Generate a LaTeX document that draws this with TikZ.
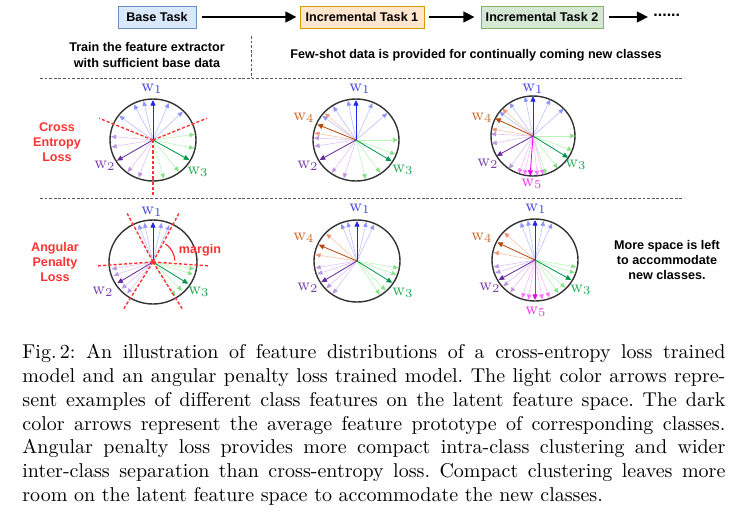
\documentclass[tikz,border=0pt]{standalone}
\usepackage{fontspec}
\newfontfamily\arial{Liberation Sans}
\usetikzlibrary{arrows.meta}
\definecolor{cred}{HTML}{FF3333}
\definecolor{bfill}{HTML}{DAE8FC}\definecolor{bdraw}{HTML}{6C8EBF}
\definecolor{ofill}{HTML}{FFE6CC}\definecolor{odraw}{HTML}{D79B00}
\definecolor{gfill}{HTML}{D5E8D4}\definecolor{gdraw}{HTML}{82B366}
\definecolor{dblue}{HTML}{2424F0}\definecolor{lblue}{HTML}{BCC0FF}\definecolor{hblue}{HTML}{9094FF}
\definecolor{dpurp}{HTML}{6A2C9A}\definecolor{lpurp}{HTML}{DCC4F4}\definecolor{hpurp}{HTML}{BC96E2}
\definecolor{dgreen}{HTML}{00994C}\definecolor{lgreen}{HTML}{B8F4B8}\definecolor{hgreen}{HTML}{86E286}
\definecolor{dorange}{HTML}{B84A10}\definecolor{lorange}{HTML}{F8C4A8}\definecolor{horange}{HTML}{F09474}
\definecolor{dmag}{HTML}{F000F0}\definecolor{lmag}{HTML}{FFB8FF}\definecolor{hmag}{HTML}{FF74FF}
\definecolor{wone}{HTML}{4444DD}\definecolor{wtwo}{HTML}{7B3FA8}\definecolor{wthree}{HTML}{22AA55}
\definecolor{wfour}{HTML}{CC6A2A}\definecolor{wfive}{HTML}{EE33EE}
\newcommand\fan[3]{\foreach \a in {#3}{\draw[line width=0.3pt, draw=#1, -{Triangle[length=2.5pt,width=2.2pt,color=#2]}] (0,0) -- (\a:42 and 40);}}
\newcommand\proto[2]{\draw[line width=0.42pt, draw=#1, -{Triangle[length=2.8pt,width=2.5pt]}] (0,0) -- (#2:42 and 40);}
\newcommand\capline[1]{\hbox to \linewidth{\spaceskip=0.333em plus 1em minus 0.2em #1}}
\begin{document}
\begin{tikzpicture}[x=0.5pt,y=-0.5pt,
  sans/.style={font=\arial\bfseries\fontsize{6.3}{7.6}\selectfont, inner sep=0pt},
  task/.style={sans, draw, line width=0.5pt, minimum height=11pt},
  flow/.style={line width=1pt, -{Triangle[length=5.6pt,width=5.4pt]}},
  sepline/.style={draw=black!65, line width=0.5pt, dash pattern=on 1.4pt off 0.9pt},
  wl/.style={font=\fontsize{8.6}{9}\selectfont, inner sep=0pt},
  ring/.style={draw=black!80, line width=0.7pt},
  bnd/.style={draw=cred, line width=0.7pt, dash pattern=on 1.6pt off 1pt}]
\useasboundingbox (0,0) rectangle (743,525);

% header flow
\node[task, fill=bfill, draw=bdraw, minimum width=39pt] (base) at (157,17) {Base Task};
\node[task, fill=ofill, draw=odraw, minimum width=62pt] (inc1) at (362,17) {Incremental Task 1};
\node[task, fill=gfill, draw=gdraw, minimum width=61pt] (inc2) at (542,17) {Incremental Task 2};
\node[font=\arial\bfseries\fontsize{8}{8}\selectfont, inner sep=0pt, anchor=west] (dots) at (653,15) {......};
\coordinate (end3) at (648,17);
\draw[flow, shorten <=2.6pt, shorten >=1.5pt] (base.east) -- (inc1.west);
\draw[flow, shorten <=2pt, shorten >=3pt] (inc1.east) -- (inc2.west);
\draw[flow, shorten <=2.5pt] (inc2.east) -- (end3);

\node[sans, align=center] (train) at (147,55) {Train the feature extractor\\with sufficient base data};
\node[sans] (few) at (476,55) {Few-shot data is provided for continually coming new classes};
\coordinate (vtop) at (251,36);
\coordinate (vbot) at (251,78);
\draw[sepline] (vtop) -- (vbot);
\coordinate (h1a) at (40,78); \coordinate (h1b) at (684,78);
\coordinate (h2a) at (40,198); \coordinate (h2b) at (684,198);
\draw[sepline] (h1a) -- (h1b);
\draw[sepline] (h2a) -- (h2b);

% row labels
\node[sans, text=cred, align=center, font=\arial\bfseries\fontsize{6.3}{7.5}\selectfont] (ce) at (57,142) {Cross\\Entropy\\Loss};
\node[sans, text=cred, align=center, font=\arial\bfseries\fontsize{6.3}{7.5}\selectfont] (apl) at (55,262) {Angular\\Penalty\\Loss};

% ---- row 1 circle 1
\begin{scope}[shift={(153,140)}, yscale=-1]
\draw[ring] (0,0) ellipse [x radius=43, y radius=41];
\fan{lblue}{hblue}{45,68,103,117,143}
\fan{lpurp}{hpurp}{175,190,233,250}
\fan{lgreen}{hgreen}{8,-12,-52,-75}
\proto{dblue}{90}\proto{dpurp}{211}\proto{dgreen}{-30}
\draw[bnd] (0,0) -- (22:58);
\draw[bnd] (0,0) -- (158:58);
\draw[bnd] (0,0) -- (270:55);
\fill[cred] (0,0) circle[radius=1];
\end{scope}
% ---- row 1 circle 2
\begin{scope}[shift={(356,140)}, yscale=-1]
\draw[ring] (0,0) ellipse [x radius=43, y radius=41];
\fan{lblue}{hblue}{42,67,101,123,143}
\fan{lorange}{horange}{138,170}
\fan{lpurp}{hpurp}{177,189,235,253}
\fan{lgreen}{hgreen}{0,-21,-55,-77}
\proto{dblue}{90}\proto{dorange}{157}\proto{dpurp}{210}\proto{dgreen}{-32}
\end{scope}
% ---- row 1 circle 3
\begin{scope}[shift={(533,136)}, yscale=-1]
\draw[ring] (0,0) ellipse [x radius=42, y radius=40];
\fan{lblue}{hblue}{43,66,101,124,143}
\fan{lorange}{horange}{137,170}
\fan{lpurp}{hpurp}{177,191,235}
\fan{lgreen}{hgreen}{0,-21,-54,-72}
\fan{lmag}{hmag}{250,258,276,284}
\proto{dblue}{90}\proto{dorange}{154}\proto{dpurp}{210}\proto{dgreen}{-33}\proto{dmag}{266}
\end{scope}
% ---- row 2 circle 1
\begin{scope}[shift={(153,262)}, yscale=-1]
\draw[ring] (0,0) ellipse [x radius=44, y radius=42];
\fan{lblue}{hblue}{67,78,102,110}
\fan{lpurp}{hpurp}{190,200,222,232}
\fan{lgreen}{hgreen}{-10,-18,-46,-58}
\proto{dblue}{90}\proto{dpurp}{212}\proto{dgreen}{-33}
\foreach \b in {62,118,184,238,302,356}{\draw[bnd] (0,0) -- (\b:55);}
\draw[cred, line width=0.6pt] (56:22) arc[start angle=56, end angle=4, radius=22];
\fill[cred] (0,0) circle[radius=2];
\end{scope}
% ---- row 2 circle 2
\begin{scope}[shift={(357,261)}, yscale=-1]
\draw[ring] (0,0) ellipse [x radius=43, y radius=41];
\fan{lblue}{hblue}{66,77,103,112}
\fan{lorange}{horange}{137,171}
\fan{lpurp}{hpurp}{190,199,223,235}
\fan{lgreen}{hgreen}{-10,-20,-47,-57}
\proto{dblue}{90}\proto{dorange}{156}\proto{dpurp}{212}\proto{dgreen}{-33}
\end{scope}
% ---- row 2 circle 3
\begin{scope}[shift={(535,260)}, yscale=-1]
\draw[ring] (0,0) ellipse [x radius=43, y radius=41];
\fan{lblue}{hblue}{66,78,100,110}
\fan{lorange}{horange}{137,169}
\fan{lpurp}{hpurp}{190,199,221,234}
\fan{lgreen}{hgreen}{-10,-19,-44,-56}
\fan{lmag}{hmag}{252,261,280,290}
\proto{dblue}{90}\proto{dorange}{154}\proto{dpurp}{210}\proto{dgreen}{-30}\proto{dmag}{270}
\end{scope}

% w labels
\node[wl, text=wone] (a1) at (152,89) {w$_1$};
\node[wl, text=wtwo] (a2) at (105,166) {w$_2$};
\node[wl, text=wthree] (a3) at (198,172) {w$_3$};
\node[wl, text=wone] (b1) at (360,89) {w$_1$};
\node[wl, text=wfour] (b4) at (304,118) {w$_4$};
\node[wl, text=wtwo] (b2) at (308,166) {w$_2$};
\node[wl, text=wthree] (b3) at (403,170) {w$_3$};
\node[wl, text=wone] (c1) at (533,89) {w$_1$};
\node[wl, text=wfour] (c4) at (482,118) {w$_4$};
\node[wl, text=wtwo] (c2) at (488,164) {w$_2$};
\node[wl, text=wthree] (c3) at (576,165) {w$_3$};
\node[wl, text=wfive] (c5) at (532,184) {w$_5$};
\node[wl, text=wone] (d1) at (152,212) {w$_1$};
\node[wl, text=wtwo] (d2) at (103,292) {w$_2$};
\node[wl, text=wthree] (d3) at (199,292) {w$_3$};
\node[sans, text=cred] (margin) at (200,250) {margin};
\node[wl, text=wone] (e1) at (360,209) {w$_1$};
\node[wl, text=wfour] (e4) at (304,238) {w$_4$};
\node[wl, text=wtwo] (e2) at (308,288) {w$_2$};
\node[wl, text=wthree] (e3) at (403,293) {w$_3$};
\node[wl, text=wone] (f1) at (536,209) {w$_1$};
\node[wl, text=wfour] (f4) at (482,238) {w$_4$};
\node[wl, text=wtwo] (f2) at (490,288) {w$_2$};
\node[wl, text=wthree] (f3) at (581,290) {w$_3$};
\node[wl, text=wfive] (f5) at (536,312) {w$_5$};
\node[sans, align=center, font=\arial\bfseries\fontsize{6.3}{7.7}\selectfont] (more) at (667,260) {More space is left\\to accommodate\\new classes.};

% caption
\node[anchor=north west, inner sep=0pt, text width=351.5pt, align=left, font=\fontsize{10}{11.9}\selectfont\frenchspacing] (cap) at (22,344) {%
\capline{Fig.\,2: An illustration of feature distributions of a cross-entropy loss trained}
\capline{model and an angular penalty loss trained model. The light color arrows repre-}
\capline{sent examples of different class features on the latent feature space. The dark}
\capline{color arrows represent the average feature prototype of corresponding classes.}
\capline{Angular penalty loss provides more compact intra-class clustering and wider}
\capline{inter-class separation than cross-entropy loss. Compact clustering leaves more}
\hbox{room on the latent feature space to accommodate the new classes.}};
\end{tikzpicture}
\end{document}
